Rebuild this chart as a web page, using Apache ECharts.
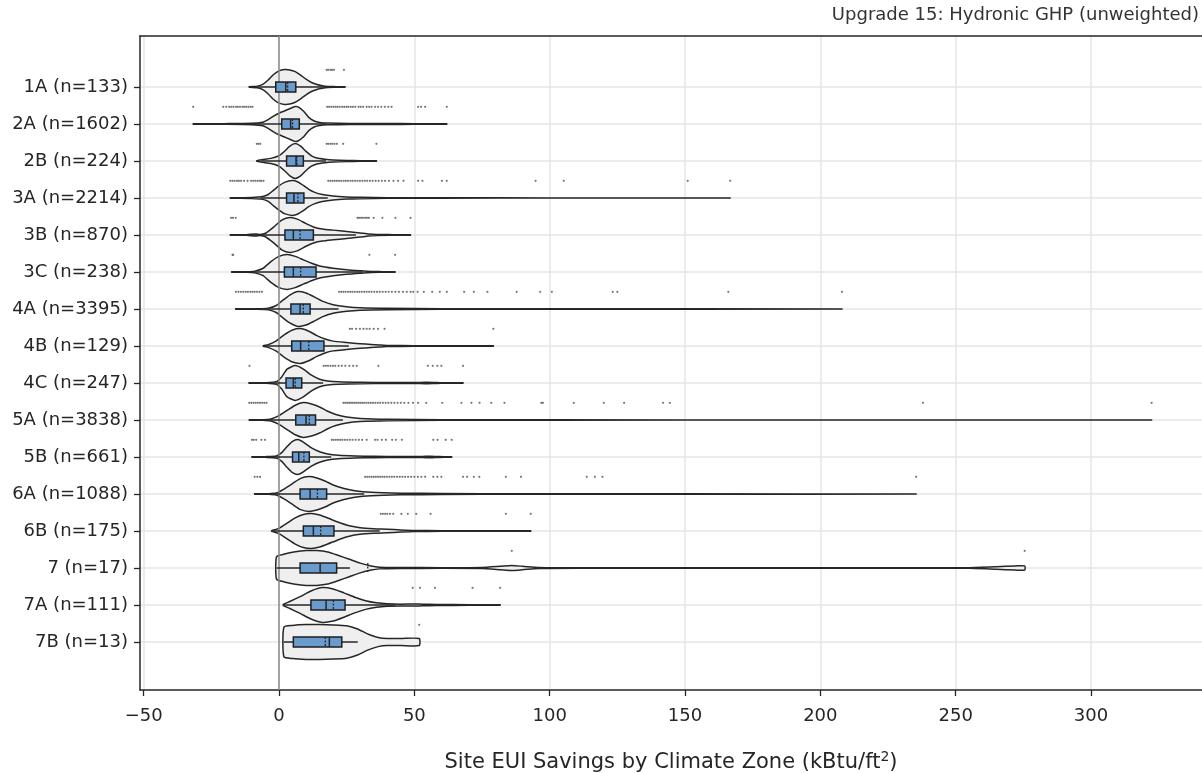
<!DOCTYPE html>
<html>
<head>
<meta charset="utf-8">
<script src="https://cdn.jsdelivr.net/npm/echarts@6/dist/echarts.min.js"></script>
<style>
  html, body { margin: 0; padding: 0; background: #ffffff; }
  #chart { width: 1202px; height: 773px; }
</style>
</head>
<body>
<div id="chart"></div>
<script>
// Climate zones (one row each) and building counts
const zones = ['1A', '2A', '2B', '3A', '3B', '3C', '4A', '4B', '4C', '5A', '5B', '6A', '6B', '7', '7A', '7B'];
const counts = [133, 1602, 224, 2214, 870, 238, 3395, 129, 247, 3838, 661, 1088, 175, 17, 111, 13];

// Savings axis ticks (kBtu/ft2)
const xTicks = [-50, 0, 50, 100, 150, 200, 250, 300];

// Box statistics per zone
const q1          = [-1.2, 1.0, 2.8, 2.8, 2.2, 2.0, 4.4, 4.7, 2.6, 6.2, 5.0, 7.8, 9.0, 7.8, 11.8, 5.3];
const medians     = [2.5, 4.3, 6.3, 5.5, 5.3, 5.3, 7.8, 8.0, 5.3, 10.0, 7.3, 11.5, 12.7, 15.2, 17.4, 18.6];
const means       = [3.2, 5.0, 6.6, 7.0, 7.8, 8.0, 9.0, 11.0, 6.0, 11.2, 9.2, 14.2, 15.4, 32.8, 20.1, 17.1];
const q3          = [6.2, 7.5, 9.0, 9.2, 12.7, 13.7, 11.5, 16.6, 8.4, 13.5, 11.2, 17.6, 20.3, 21.3, 24.4, 23.2];
const whiskerLow  = [-11, -9.5, -6.5, -6.8, -13.5, -15.5, -5.5, -5.8, -6.1, -4.5, -4.3, -6.9, -2.7, -0.9, 1.6, 1.8];
const whiskerHigh = [17.3, 17.3, 17.4, 18, 28.4, 31, 22, 25.8, 16.3, 23.6, 19.3, 31.5, 37.2, 26.2, 43, 29.1];

// Violin outlines: [savings, relative density] per zone, from minimum to maximum
const violinProfiles = [
  [[-11,0.02],[-8,0.05],[-6,0.15],[-4,0.4],[-2,0.72],[0,0.93],[2,1],[4,0.98],[6,0.88],[8,0.68],[10,0.45],[12,0.26],[14,0.14],[16,0.07],[18,0.03],[21,0.02],[24.4,0.01]],
  [[-31.7,0.01],[-20,0.02],[-10,0.04],[-6,0.1],[-4,0.25],[-2,0.45],[0,0.62],[2,0.75],[4,0.88],[6,1],[7,0.98],[9,0.75],[11,0.38],[13,0.17],[15,0.09],[18,0.05],[22,0.04],[30,0.03],[40,0.025],[50,0.02],[62,0.01]],
  [[-8.2,0.02],[-6,0.08],[-3,0.15],[0,0.3],[2,0.55],[4,0.85],[6,1],[8,0.85],[10,0.55],[12,0.3],[14,0.17],[17,0.1],[20,0.06],[25,0.03],[30,0.02],[36,0.01]],
  [[-18,0.01],[-10,0.03],[-6,0.08],[-4,0.2],[-2,0.45],[0,0.7],[2,0.9],[5,1],[7,0.92],[9,0.72],[11,0.5],[13,0.34],[16,0.2],[20,0.11],[25,0.06],[30,0.04],[40,0.02],[60,0.01],[100,0.005],[166.7,0.004]],
  [[-18,0.01],[-12,0.02],[-8.5,0.06],[-7,0.03],[-5,0.1],[-2,0.45],[1,0.85],[4,1],[7,0.9],[10,0.65],[13,0.45],[16,0.35],[20,0.28],[25,0.2],[30,0.12],[33,0.06],[36,0.03],[42,0.02],[48.6,0.01]],
  [[-17.5,0.01],[-12,0.02],[-9,0.05],[-6,0.2],[-3,0.6],[0,0.9],[3,1],[6,0.9],[9,0.7],[12,0.5],[15,0.35],[20,0.22],[25,0.13],[30,0.07],[34,0.03],[38,0.02],[42.9,0.01]],
  [[-16,0.01],[-8,0.02],[-4,0.05],[-1,0.2],[1,0.45],[4,0.8],[7,1],[10,0.92],[13,0.7],[16,0.45],[20,0.25],[25,0.13],[30,0.07],[40,0.04],[60,0.02],[100,0.01],[208,0.005]],
  [[-5.8,0.02],[-4,0.08],[-1,0.3],[2,0.65],[5,0.92],[8,1],[11,0.85],[14,0.6],[17,0.4],[20,0.28],[25,0.2],[30,0.13],[34,0.09],[37,0.06],[40,0.03],[50,0.02],[65,0.015],[79.2,0.01]],
  [[-11.1,0.01],[-5,0.02],[-1,0.08],[1,0.35],[3,0.8],[6,1],[9,0.8],[12,0.45],[15,0.22],[18,0.12],[22,0.07],[30,0.04],[40,0.03],[50,0.025],[54,0.04],[57,0.035],[60,0.015],[68,0.01]],
  [[-11,0.01],[-6,0.02],[-3,0.06],[0,0.25],[3,0.55],[6,0.85],[9,1],[12,0.92],[15,0.75],[18,0.5],[21,0.32],[25,0.17],[30,0.09],[40,0.04],[60,0.02],[100,0.01],[200,0.005],[322.4,0.004]],
  [[-10,0.01],[-5,0.02],[-1,0.06],[1,0.25],[3,0.6],[5,0.9],[7,1],[9,0.85],[12,0.52],[15,0.3],[18,0.17],[22,0.1],[28,0.06],[35,0.04],[45,0.03],[53,0.035],[56,0.05],[59,0.025],[63.8,0.01]],
  [[-9,0.01],[-4,0.02],[-1,0.06],[2,0.3],[5,0.6],[8,0.9],[11,1],[14,0.92],[17,0.75],[20,0.52],[24,0.32],[28,0.19],[34,0.1],[45,0.05],[60,0.03],[90,0.015],[150,0.008],[235.4,0.005]],
  [[-2.7,0.02],[0,0.15],[3,0.45],[6,0.75],[9,0.95],[12,1],[15,0.92],[18,0.75],[22,0.5],[26,0.3],[30,0.19],[35,0.13],[40,0.1],[45,0.06],[50,0.03],[60,0.02],[75,0.015],[93,0.01]],
  [[-0.9,0.65],[2,0.8],[6,0.93],[10,1],[14,1],[18,0.92],[22,0.72],[26,0.5],[30,0.28],[34,0.12],[37,0.05],[45,0.03],[60,0.02],[75,0.03],[82,0.1],[86,0.14],[90,0.1],[96,0.03],[110,0.01],[200,0.01],[255,0.02],[265,0.07],[272,0.12],[275.5,0.12]],
  [[1.6,0.03],[4,0.2],[8,0.5],[12,0.82],[16,1],[20,0.92],[24,0.7],[28,0.45],[32,0.25],[36,0.13],[40,0.07],[45,0.05],[50,0.06],[53,0.045],[58,0.03],[70,0.02],[81.7,0.015]],
  [[1.8,0.85],[5,0.95],[10,1],[15,1],[20,0.98],[25,0.93],[29,0.75],[33,0.45],[37,0.25],[40,0.2],[45,0.2],[51.8,0.2]]
];

// Points beyond the whiskers per zone
const outliers = [
  [17.6, 18.2, 19, 19.6, 20.3, 24],
  [-31.7, -20.6, -19.5, -18.4, -17.6, -16.8, -15.9, -15.2, -14.4, -13.5, -12.8, -12.1, -11.3, -10.5, -9.8, 17.8, 18.5, 19.3, 20.1, 20.9, 21.6, 22.4, 23.3, 24.1, 24.9, 25.6, 26.5, 27.3, 28.2, 29.4, 30.2, 31.1, 32.4, 33.3, 34.2, 35.5, 36.6, 37.8, 39.1, 40.4, 41.6, 51.4, 52.5, 54, 62],
  [-8.2, -7.6, -6.9, 17.6, 18.2, 19, 19.7, 20.5, 21.4, 23.7, 36],
  [-18, -17.2, -16.4, -15.5, -14.8, -14, -12.9, -11.6, -10.3, -9.5, -8.7, -7.9, -7.1, -6.5, -5.7, 18.2, 19, 19.8, 20.6, 21.4, 22.2, 23, 23.9, 24.7, 25.5, 26.4, 27.2, 28.1, 29, 29.9, 30.8, 31.7, 32.6, 33.6, 34.6, 35.7, 36.8, 38, 39.2, 40.6, 42.3, 44, 46, 51.4, 53, 60.2, 62, 94.8, 105.2, 151, 166.7],
  [-17.7, -17, -16, 29, 29.6, 30.3, 31, 31.8, 32.5, 33.2, 35, 38.2, 43, 48.6],
  [-17.2, -16.9, 33.4, 42.9],
  [-15.9, -15, -14.1, -13.2, -12.3, -11.5, -10.6, -9.8, -9, -8.1, -7.2, -6.3, 22.2, 23, 23.8, 24.6, 25.5, 26.3, 27.1, 28, 28.9, 29.7, 30.6, 31.5, 32.4, 33.3, 34.2, 35.2, 36.2, 37.2, 38.3, 39.4, 40.5, 41.7, 43, 44.3, 45.8, 47.2, 48.6, 49.6, 51.2, 53.5, 56.6, 59.4, 62, 68.4, 72, 77, 87.8, 96.5, 100.8, 123.3, 125, 166, 208],
  [26.2, 27, 28.5, 29.9, 31.2, 32.4, 33.5, 35, 36.6, 39, 79.2],
  [-10.9, 16.5, 17.3, 18.1, 19, 19.9, 20.8, 22, 23.2, 24.5, 26, 27.4, 28.7, 36.7, 55, 56.8, 58.5, 60, 68],
  [-11, -10.2, -9.4, -8.6, -7.8, -7, -6.2, -5.4, -4.6, 23.8, 24.5, 25.2, 25.9, 26.6, 27.3, 28, 28.7, 29.4, 30.1, 30.8, 31.5, 32.3, 33.1, 33.9, 34.7, 35.6, 36.5, 37.4, 38.4, 39.4, 40.4, 41.5, 42.6, 43.8, 45, 46.3, 47.8, 49.5, 51.4, 54.4, 60.3, 67.4, 71.1, 74.1, 78.4, 83.3, 96.9, 97.5, 108.9, 120, 127.5, 141.9, 144.4, 237.9, 322.4],
  [-10, -9.3, -8.4, -6.5, -5.2, 19.5, 20.2, 21, 21.8, 22.6, 23.4, 24.3, 25.2, 26.2, 27.2, 28.3, 29.5, 30.7, 32.4, 35.5, 36.4, 38, 39.5, 41.8, 43.2, 45.4, 57, 58.6, 61.6, 63.8],
  [-9, -8, -7, 31.8, 32.6, 33.4, 34.2, 35, 35.8, 36.6, 37.4, 38.2, 39, 39.9, 40.8, 41.7, 42.6, 43.6, 44.6, 45.6, 46.6, 47.7, 48.8, 50, 51.3, 52.6, 54, 57, 58.5, 60, 68, 69.5, 72, 74, 83.8, 89.4, 113.7, 116.7, 119.5, 235.4],
  [37.6, 38.4, 39.2, 40, 41, 42.2, 45.2, 47.6, 50.7, 56, 83.8, 93],
  [86, 275.5],
  [49.4, 52.1, 57.6, 71.5, 81.7],
  [51.8]
];

// ---- drawing ----
const FONT = 'DejaVu Sans';
const INK = '#262626';
const VIOLIN_HALF = 0.47;    // half-height of the widest violin, in rows
const BOX_HALF = 0.135;      // half-height of the IQR box, in rows
const OUTLIER_SHIFT = 0.465; // outlier strip sits above its row

const rowIdx = zones.map((_, i) => i);
const minus = v => (v < 0 ? '\u2212' + Math.abs(v) : String(v));

function renderViolin(params, api) {
  const i = params.dataIndex;
  const top = [], bottom = [];
  violinProfiles[i].forEach(([v, d]) => {
    top.push(api.coord([v, i - d * VIOLIN_HALF]));
    bottom.push(api.coord([v, i + d * VIOLIN_HALF]));
  });
  return {
    type: 'polygon',
    shape: { points: top.concat(bottom.reverse()), smooth: 0.2 },
    style: { fill: '#efefef', stroke: '#262626', lineWidth: 1.5 }
  };
}

function renderBox(params, api) {
  const i = params.dataIndex;
  const yc = api.coord([0, i])[1];
  const h = api.size([0, 1])[1] * BOX_HALF;
  const x = v => api.coord([v, i])[0];
  const line = (x1, y1, x2, y2, extra) => ({
    type: 'line',
    shape: { x1, y1, x2, y2 },
    style: Object.assign({ stroke: INK, lineWidth: 1.5 }, extra || {})
  });
  return {
    type: 'group',
    children: [
      line(x(whiskerLow[i]), yc, x(q1[i]), yc),
      line(x(q3[i]), yc, x(whiskerHigh[i]), yc),
      {
        type: 'rect',
        shape: { x: x(q1[i]), y: yc - h, width: x(q3[i]) - x(q1[i]), height: 2 * h },
        style: { fill: '#6a9bcd', stroke: '#1f1f1f', lineWidth: 1.5 }
      },
      line(x(medians[i]), yc - h, x(medians[i]), yc + h),
      line(x(means[i]), yc - h, x(means[i]), yc + h, { lineDash: [2, 1.5], lineWidth: 1.3 })
    ]
  };
}

const outlierPoints = [];
outliers.forEach((vals, i) => vals.forEach(v => outlierPoints.push([v, i - OUTLIER_SHIFT])));

const chart = echarts.init(document.getElementById('chart'), null, { renderer: 'canvas' });

chart.setOption({
  animation: false,
  backgroundColor: '#ffffff',
  grid: { left: 140, right: 0, top: 36, bottom: 83, containLabel: false },
  xAxis: [
    {
      type: 'value',
      min: -51.35,
      max: 341,
      axisLine: { show: true, onZero: false, lineStyle: { color: INK, width: 1.5 } },
      axisTick: { show: true, customValues: xTicks, length: 6, lineStyle: { color: INK, width: 1.3 } },
      axisLabel: {
        customValues: xTicks, formatter: minus, margin: 17,
        fontFamily: FONT, fontSize: 18, color: INK
      },
      splitLine: { show: true, lineStyle: { color: '#e6e6e6', width: 1.5 } }
    },
    {
      type: 'value',
      position: 'top',
      min: -51.35,
      max: 341,
      axisLine: { show: true, onZero: false, lineStyle: { color: INK, width: 1.5 } },
      axisTick: { show: false },
      axisLabel: { show: false },
      splitLine: { show: false }
    }
  ],
  yAxis: {
    type: 'value',
    inverse: true,
    min: -1.378,
    max: 16.297,
    axisLine: { show: true, onZero: false, lineStyle: { color: INK, width: 1.5 } },
    axisTick: { show: true, customValues: rowIdx, length: 6, lineStyle: { color: INK, width: 1.3 } },
    axisLabel: {
      customValues: rowIdx,
      formatter: v => zones[v] + ' (n=' + counts[v] + ')',
      margin: 12, fontFamily: FONT, fontSize: 18, color: INK
    },
    splitLine: { show: true, lineStyle: { color: '#e6e6e6', width: 1.5 } }
  },
  series: [
    {
      type: 'custom',
      name: 'violins',
      z: 2,
      renderItem: renderViolin,
      encode: { x: 0, y: 1 },
      data: medians.map((m, i) => [m, i])
    },
    {
      type: 'line',
      name: 'zero',
      z: 3,
      symbol: 'none',
      silent: true,
      lineStyle: { color: '#8a8a8a', width: 1.5 },
      data: [[0, -1.378], [0, 16.297]]
    },
    {
      type: 'custom',
      name: 'boxes',
      z: 4,
      renderItem: renderBox,
      encode: { x: 0, y: 1 },
      data: medians.map((m, i) => [m, i])
    },
    {
      type: 'scatter',
      name: 'outliers',
      z: 5,
      symbol: 'circle',
      symbolSize: 2.2,
      itemStyle: { color: '#555555' },
      data: outlierPoints
    }
  ],
  graphic: [
    {
      type: 'text',
      x: 1199,
      y: 15,
      style: {
        text: 'Upgrade 15: Hydronic GHP (unweighted)',
        fontFamily: FONT, fontSize: 18, fill: '#333333',
        align: 'right', verticalAlign: 'middle'
      }
    },
    {
      type: 'text',
      x: 671,
      y: 763,
      style: {
        text: '{a|Site EUI Savings by Climate Zone (kBtu/ft}{s|2}{a|)}',
        align: 'center',
        verticalAlign: 'middle',
        rich: {
          a: { fontFamily: FONT, fontSize: 21, fill: INK, lineHeight: 26 },
          s: { fontFamily: FONT, fontSize: 14, fill: INK, verticalAlign: 'top', lineHeight: 26 }
        }
      }
    }
  ]
});
</script>
</body>
</html>
